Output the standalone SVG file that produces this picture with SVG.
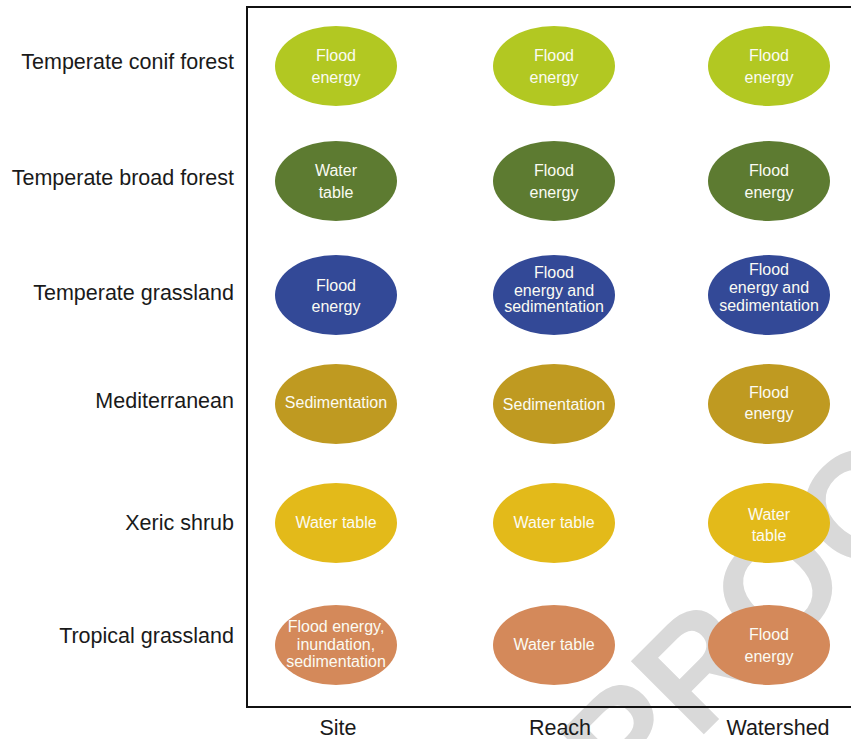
<svg xmlns="http://www.w3.org/2000/svg" width="851" height="739" viewBox="0 0 851 739">
<style>
.lbl{font-family:"Liberation Sans",Arial,sans-serif;font-size:21.5px;fill:#1a1a1a}
.rl{text-anchor:end}
.ax{text-anchor:middle}
.nt{font-family:"Liberation Sans",Arial,sans-serif;font-size:16px;fill:#fbfbf3;text-anchor:middle}
.wm{font-family:"Liberation Sans",Arial,sans-serif;font-size:150px;font-weight:bold;fill:#d9d9d9}
.c1{fill:#b2c822}.c2{fill:#5d7b31}.c3{fill:#334997}.c4{fill:#bf9a21}.c5{fill:#e3ba1a}.c6{fill:#d4895a}
</style>
<rect width="851" height="739" fill="#fff"/>
<text class="wm" transform="translate(626,812) rotate(-45)">PROOF</text>
<g id="frame" fill="none" stroke="#111" stroke-width="2">
<path d="M851,7H247V707H851"/>
</g>
<g id="row-labels">
<text class="lbl rl" x="234" y="69">Temperate conif forest</text>
<text class="lbl rl" x="234" y="185">Temperate broad forest</text>
<text class="lbl rl" x="234" y="300">Temperate grassland</text>
<text class="lbl rl" x="234" y="408">Mediterranean</text>
<text class="lbl rl" x="234" y="530">Xeric shrub</text>
<text class="lbl rl" x="234" y="643">Tropical grassland</text>
</g>
<g id="col-labels">
<text class="lbl ax" x="338" y="735">Site</text>
<text class="lbl ax" x="560" y="735">Reach</text>
<text class="lbl ax" x="778" y="735">Watershed</text>
</g>
<g id="r1c1"><ellipse class="c1" cx="336" cy="66" rx="61" ry="40"/><text class="nt" x="336" y="61">Flood</text><text class="nt" x="336" y="83">energy</text></g>
<g id="r1c2"><ellipse class="c1" cx="554" cy="66" rx="61" ry="40"/><text class="nt" x="554" y="61">Flood</text><text class="nt" x="554" y="83">energy</text></g>
<g id="r1c3"><ellipse class="c1" cx="769" cy="66" rx="61" ry="40"/><text class="nt" x="769" y="61">Flood</text><text class="nt" x="769" y="83">energy</text></g>
<g id="r2c1"><ellipse class="c2" cx="336" cy="181" rx="61" ry="40"/><text class="nt" x="336" y="176">Water</text><text class="nt" x="336" y="198">table</text></g>
<g id="r2c2"><ellipse class="c2" cx="554" cy="181" rx="61" ry="40"/><text class="nt" x="554" y="176">Flood</text><text class="nt" x="554" y="198">energy</text></g>
<g id="r2c3"><ellipse class="c2" cx="769" cy="181" rx="61" ry="40"/><text class="nt" x="769" y="176">Flood</text><text class="nt" x="769" y="198">energy</text></g>
<g id="r3c1"><ellipse class="c3" cx="336" cy="295" rx="61" ry="40"/><text class="nt" x="336" y="291">Flood</text><text class="nt" x="336" y="312">energy</text></g>
<g id="r3c2"><ellipse class="c3" cx="554" cy="295" rx="61" ry="40"/><text class="nt" x="554" y="278">Flood</text><text class="nt" x="554" y="296">energy and</text><text class="nt" x="554" y="312">sedimentation</text></g>
<g id="r3c3"><ellipse class="c3" cx="769" cy="295" rx="61" ry="40"/><text class="nt" x="769" y="275">Flood</text><text class="nt" x="769" y="293">energy and</text><text class="nt" x="769" y="311">sedimentation</text></g>
<g id="r4c1"><ellipse class="c4" cx="336" cy="404" rx="61" ry="40"/><text class="nt" x="336" y="408">Sedimentation</text></g>
<g id="r4c2"><ellipse class="c4" cx="554" cy="404" rx="61" ry="40"/><text class="nt" x="554" y="410">Sedimentation</text></g>
<g id="r4c3"><ellipse class="c4" cx="769" cy="404" rx="61" ry="40"/><text class="nt" x="769" y="398">Flood</text><text class="nt" x="769" y="419">energy</text></g>
<g id="r5c1"><ellipse class="c5" cx="336" cy="523" rx="61" ry="40"/><text class="nt" x="336" y="528">Water table</text></g>
<g id="r5c2"><ellipse class="c5" cx="554" cy="523" rx="61" ry="40"/><text class="nt" x="554" y="528">Water table</text></g>
<g id="r5c3"><ellipse class="c5" cx="769" cy="523" rx="61" ry="40"/><text class="nt" x="769" y="520">Water</text><text class="nt" x="769" y="541">table</text></g>
<g id="r6c1"><ellipse class="c6" cx="336" cy="645" rx="61" ry="40"/><text class="nt" x="336" y="632">Flood energy,</text><text class="nt" x="336" y="650">inundation,</text><text class="nt" x="336" y="667">sedimentation</text></g>
<g id="r6c2"><ellipse class="c6" cx="554" cy="645" rx="61" ry="40"/><text class="nt" x="554" y="650">Water table</text></g>
<g id="r6c3"><ellipse class="c6" cx="769" cy="645" rx="61" ry="40"/><text class="nt" x="769" y="640">Flood</text><text class="nt" x="769" y="662">energy</text></g>
</svg>
